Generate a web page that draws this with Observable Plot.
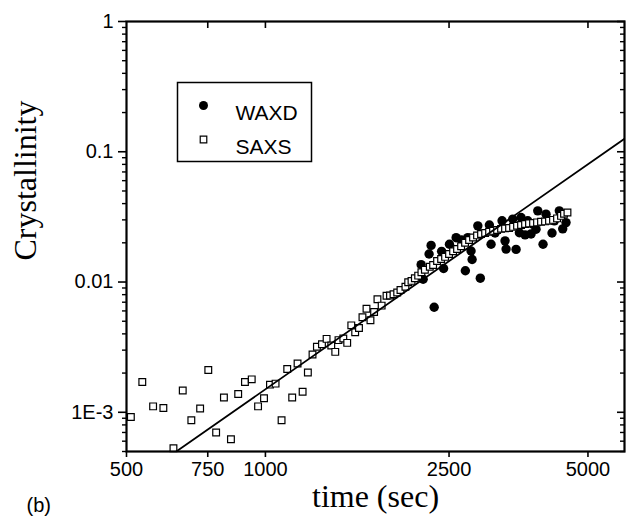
<!DOCTYPE html>
<html>
<head>
<meta charset="utf-8">
<script src="https://cdn.jsdelivr.net/npm/d3@7"></script>
<script src="https://cdn.jsdelivr.net/npm/@observablehq/plot@0.6"></script>
<style>
  html, body { margin: 0; padding: 0; background: #fff; }
  #chart { width: 634px; height: 526px; }
</style>
</head>
<body>
<div id="chart"></div>
<script>
// ---- Data ----
const saxsTime = [
  511, 541, 571, 601, 632, 662, 691, 722, 752, 782,
  813, 842, 873, 903, 934, 964, 993, 1023, 1052, 1084,
  1115, 1143, 1174, 1204, 1236, 1265, 1293, 1326, 1357, 1389,
  1417, 1440, 1475, 1504, 1535, 1565, 1595, 1623, 1656, 1689,
  1720, 1749, 1786, 1830, 1862, 1895, 1930, 1962, 2011, 2039,
  2073, 2108, 2143, 2178, 2216, 2271, 2309, 2355, 2403, 2451,
  2500, 2551, 2602, 2655, 2708, 2763, 2818, 2875, 2933, 2993,
  3053, 3114, 3177, 3241, 3306, 3373, 3441, 3510, 3581, 3653,
  3726, 3802, 3878, 3956, 4036, 4117, 4200, 4285, 4371, 4437,
  4514
];
const saxsCryst = [
  9.2e-4, 1.71e-3, 1.11e-3, 1.08e-3, 5.3e-4, 1.47e-3, 8.7e-4, 1.07e-3, 2.11e-3, 7.0e-4,
  1.30e-3, 6.2e-4, 1.38e-3, 1.71e-3, 1.79e-3, 1.11e-3, 1.28e-3, 1.63e-3, 1.66e-3, 8.7e-4,
  2.15e-3, 1.30e-3, 2.37e-3, 1.44e-3, 2.02e-3, 2.78e-3, 3.18e-3, 3.33e-3, 3.66e-3, 3.26e-3,
  2.91e-3, 3.58e-3, 3.69e-3, 3.41e-3, 4.65e-3, 4.12e-3, 4.43e-3, 5.36e-3, 6.23e-3, 5.08e-3,
  5.88e-3, 7.38e-3, 6.59e-3, 7.85e-3, 7.87e-3, 8.06e-3, 8.30e-3, 8.68e-3, 9.2e-3, 9.95e-3,
  1.02e-2, 1.07e-2, 1.12e-2, 1.19e-2, 1.24e-2, 1.31e-2, 1.35e-2, 1.45e-2, 1.50e-2, 1.56e-2,
  1.64e-2, 1.72e-2, 1.79e-2, 1.88e-2, 2.0e-2, 2.10e-2, 2.20e-2, 2.28e-2, 2.34e-2, 2.38e-2,
  2.43e-2, 2.47e-2, 2.51e-2, 2.56e-2, 2.58e-2, 2.60e-2, 2.65e-2, 2.70e-2, 2.74e-2, 2.79e-2,
  2.82e-2, 2.84e-2, 2.87e-2, 2.90e-2, 2.92e-2, 2.95e-2, 3.0e-2, 3.08e-2, 3.22e-2, 3.34e-2,
  3.42e-2
];
const waxdTime = [
  2175, 2197, 2263, 2286, 2321, 2409, 2433, 2505, 2590, 2662,
  2712, 2745, 2790, 2805, 2886, 2922, 3057, 3083, 3145, 3257,
  3306, 3323, 3436, 3493, 3551, 3581, 3653, 3703, 3764, 3796,
  3859, 3892, 3996, 4056, 4179, 4228, 4334, 4408, 4481
];
const waxdCryst = [
  1.36e-2, 1.05e-2, 1.64e-2, 1.91e-2, 6.4e-3, 1.72e-2, 1.27e-2, 1.95e-2, 2.19e-2, 2.10e-2,
  1.22e-2, 2.19e-2, 1.73e-2, 1.49e-2, 2.70e-2, 1.07e-2, 2.74e-2, 1.95e-2, 2.38e-2, 2.95e-2,
  2.07e-2, 1.79e-2, 3.04e-2, 1.78e-2, 2.39e-2, 3.13e-2, 2.30e-2, 2.95e-2, 2.34e-2, 2.78e-2,
  2.54e-2, 3.52e-2, 1.95e-2, 3.32e-2, 2.38e-2, 2.95e-2, 3.52e-2, 2.56e-2, 2.86e-2
];
// Fitted power-law line (end points as drawn)
const fitTime = [641, 6000];
const fitCryst = [5.0e-4, 0.126];

// Axis ticks
const xTicks = [500, 750, 1000, 2500, 5000];
const xTickLabels = ["500", "750", "1000", "2500", "5000"];
const xTopTicks = [750, 1000, 2500, 5000];
const yTicks = [0.001, 0.01, 0.1, 1];
const yTickLabels = ["1E-3", "0.01", "0.1", "1"];
const yDecades = [1e-4, 1e-3, 1e-2, 1e-1];
const yMinorMultipliers = [2, 3, 4, 5, 6, 7, 8, 9];

const seriesNames = ["WAXD", "SAXS"];
const xTitle = "time (sec)";
const yTitle = "Crystallinity";
const panelLabel = "(b)";

// ---- Build tables ----
const saxs = saxsTime.map((t, i) => ({t, c: saxsCryst[i]}));
const waxd = waxdTime.map((t, i) => ({t, c: waxdCryst[i]}));
const fit = fitTime.map((t, i) => ({t, c: fitCryst[i]}));
const yMinor = yDecades.flatMap(d => yMinorMultipliers.map(m => +(m * d).toPrecision(3)))
  .filter(v => v >= 5e-4 && v < 1);
const xFmt = d => xTickLabels[xTicks.indexOf(d)] ?? "";
const yFmt = d => yTickLabels[yTicks.findIndex(v => Math.abs(v - d) / v < 1e-6)] ?? "";

const sans = "'Liberation Sans', Arial, sans-serif";
const serif = "'Liberation Serif', 'Times New Roman', serif";

const chart = Plot.plot({
  width: 634,
  height: 526,
  marginLeft: 126,
  marginRight: 10,
  marginTop: 21,
  marginBottom: 75,
  x: {type: "log", domain: [500, 6000]},
  y: {type: "log", domain: [5e-4, 1]},
  style: {fontFamily: sans, fontSize: "20px", color: "black", background: "white"},
  marks: [
    // data
    Plot.dot(waxd, {x: "t", y: "c", r: 4.7, fill: "black", stroke: "none"}),
    Plot.dot(saxs, {x: "t", y: "c", symbol: "square", r: 3.8, fill: "white", stroke: "black", strokeWidth: 1.2}),
    Plot.line(fit, {x: "t", y: "c", stroke: "black", strokeWidth: 1.8, clip: true}),
    // frame
    Plot.frame({stroke: "black", strokeWidth: 2.2}),
    // left axis
    Plot.axisY({anchor: "left", ticks: yTicks, tickFormat: yFmt, tickSize: 8, tickPadding: 5, strokeWidth: 1.6, label: null, fontSize: 20}),
    Plot.axisY({anchor: "left", ticks: yMinor, tickSize: 4, strokeWidth: 1.4, fill: "none", label: null}),
    // right axis (inward ticks)
    Plot.axisY({anchor: "right", ticks: yTicks, tickSize: 8, dx: -8, strokeWidth: 1.6, fill: "none", label: null}),
    Plot.axisY({anchor: "right", ticks: yMinor, tickSize: 5, dx: -5, strokeWidth: 1.4, fill: "none", label: null}),
    // bottom axis
    Plot.axisX({anchor: "bottom", ticks: xTicks, tickFormat: xFmt, tickSize: 6, tickPadding: 4, strokeWidth: 1.6, label: null, fontSize: 20}),
    // top axis (inward ticks)
    Plot.axisX({anchor: "top", ticks: xTopTicks, tickSize: 6, dy: 6, strokeWidth: 1.6, fill: "none", label: null}),
    // axis titles
    Plot.text([xTitle], {frameAnchor: "bottom", dy: 55, text: d => d, fontFamily: serif, fontSize: 32, fill: "black"}),
    Plot.text([yTitle], {frameAnchor: "left", dx: -101, dy: 24, rotate: -90, text: d => d, fontFamily: serif, fontSize: 32, fill: "black"}),
    Plot.text([panelLabel], {frameAnchor: "bottom-left", dx: -100, dy: 60, text: d => d, fontFamily: sans, fontSize: 20, fill: "black"}),
    // legend
    Plot.frame({insetLeft: 51, insetTop: 61, insetRight: 313, insetBottom: 290, stroke: "black", strokeWidth: 1.5, fill: "white"}),
    Plot.dot([seriesNames[0]], {frameAnchor: "top-left", dx: 77, dy: 84, r: 4.5, fill: "black", stroke: "none"}),
    Plot.dot([seriesNames[1]], {frameAnchor: "top-left", dx: 77, dy: 118, symbol: "square", r: 3.7, fill: "white", stroke: "black", strokeWidth: 1.2}),
    Plot.text([seriesNames[0]], {frameAnchor: "top-left", dx: 109, dy: 84, text: d => d, textAnchor: "start", fontFamily: sans, fontSize: 21, fill: "black"}),
    Plot.text([seriesNames[1]], {frameAnchor: "top-left", dx: 109, dy: 118, text: d => d, textAnchor: "start", fontFamily: sans, fontSize: 21, fill: "black"})
  ]
});
document.getElementById("chart").appendChild(chart);
</script>
</body>
</html>
